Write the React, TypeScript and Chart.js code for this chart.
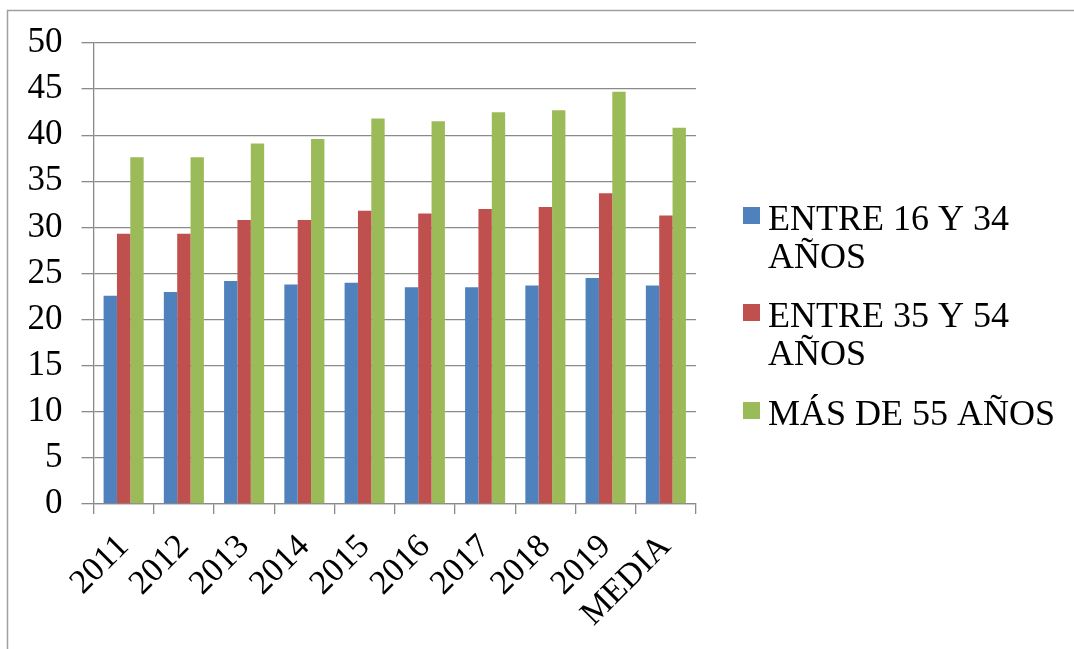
import React, { useEffect, useRef } from "react";
import { Chart, registerables } from "chart.js";

Chart.register(...registerables);

const categories = ["2011", "2012", "2013", "2014", "2015", "2016", "2017", "2018", "2019", "MEDIA"];
const seriesNames = [["ENTRE 16 Y 34", "AÑOS"], ["ENTRE 35 Y 54", "AÑOS"], ["MÁS DE 55 AÑOS"]];
const young = [22.6, 23.0, 24.2, 23.8, 24.0, 23.5, 23.5, 23.7, 24.5, 23.7];
const middle = [29.3, 29.3, 30.8, 30.8, 31.8, 31.5, 32.0, 32.2, 33.7, 31.3];
const older = [37.6, 37.6, 39.1, 39.6, 41.8, 41.5, 42.5, 42.7, 44.7, 40.8];
const colors = ["#4F81BD", "#C0504D", "#9BBB59"];
const yTicks = [0, 5, 10, 15, 20, 25, 30, 35, 40, 45, 50];

const FONT = "'Liberation Serif', 'Times New Roman', serif";

const legendPlugin = {
  id: "customLegend",
  beforeDraw(chart: any) {
    const ctx = chart.ctx;
    ctx.save();
    ctx.strokeStyle = "#a0a0a0";
    ctx.lineWidth = 1.5;
    ctx.beginPath();
    ctx.moveTo(7.5, 649);
    ctx.lineTo(7.5, 10.5);
    ctx.lineTo(1074, 10.5);
    ctx.stroke();
    ctx.restore();
  },
  afterDraw(chart: any) {
    const ctx = chart.ctx;
    ctx.save();
    ctx.font = `36px ${FONT}`;
    ctx.textBaseline = "alphabetic";
    ctx.textAlign = "left";
    const baselines = [230, 327, 425];
    chart.data.datasets.forEach((ds: any, i: number) => {
      const b = baselines[i];
      ctx.fillStyle = ds.backgroundColor;
      ctx.fillRect(743, b - 23, 17, 17);
      ctx.fillStyle = "#000";
      const lines: string[] = seriesNames[i];
      lines.forEach((line, j) => {
        ctx.fillText(line, 768, b + j * 37.5);
      });
    });
    ctx.restore();
  },
};

export default function App() {
  const ref = useRef<HTMLCanvasElement | null>(null);
  useEffect(() => {
    if (!ref.current) return;
    const chart = new Chart(ref.current, {
      type: "bar",
      data: {
        labels: categories,
        datasets: [
          { label: seriesNames[0].join(" "), data: young, backgroundColor: colors[0] },
          { label: seriesNames[1].join(" "), data: middle, backgroundColor: colors[1] },
          { label: seriesNames[2].join(" "), data: older, backgroundColor: colors[2] },
        ],
      },
      options: {
        animation: false,
        responsive: false,
        devicePixelRatio: 1,
        layout: { padding: { top: 43, right: 378, bottom: 0, left: 0 } },
        plugins: { legend: { display: false }, tooltip: { enabled: false } },
        datasets: { bar: { categoryPercentage: 0.665, barPercentage: 1 } },
        scales: {
          x: {
            grid: { drawOnChartArea: false, drawTicks: true, tickLength: 10, color: "#8a8a8a", lineWidth: 1.3 },
            border: { display: true, color: "#8a8a8a", width: 1.3 },
            ticks: {
              minRotation: 45,
              maxRotation: 45,
              autoSkip: false,
              padding: 13,
              color: "#000",
              font: { family: FONT, size: 34 },
            },
            afterFit: (s: any) => {
              s.height = 145;
            },
          },
          y: {
            min: 0,
            max: 50,
            afterBuildTicks: (s: any) => {
              s.ticks = yTicks.map((v) => ({ value: v }));
            },
            grid: { color: "#8a8a8a", lineWidth: 1.3, drawTicks: true, tickLength: 12 },
            border: { display: true, color: "#8a8a8a", width: 1.3 },
            ticks: {
              padding: 19,
              color: "#000",
              font: { family: FONT, size: 35 },
            },
            afterFit: (s: any) => {
              s.width = 93.5;
            },
          },
        },
      },
      plugins: [legendPlugin],
    });
    return () => chart.destroy();
  }, []);
  return (
    <div style={{ position: "fixed", left: 0, top: 0, width: 1074, height: 649, background: "#fff" }}>
      <canvas ref={ref} width={1074} height={649} style={{ width: 1074, height: 649, display: "block" }} />
    </div>
  );
}
